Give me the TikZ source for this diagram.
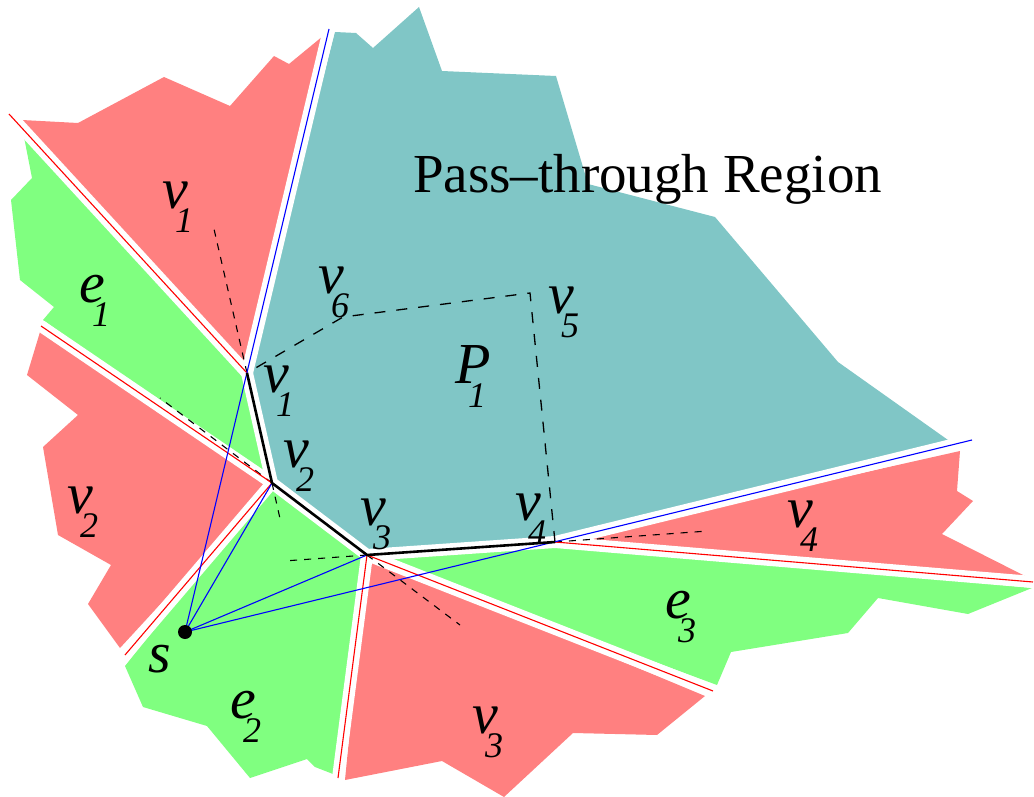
\documentclass[tikz,border=0pt]{standalone}
\usepackage{fontspec}
\setmainfont{Liberation Serif}
\definecolor{pinkr}{RGB}{255,128,128}
\definecolor{greenr}{RGB}{128,255,128}
\definecolor{tealr}{RGB}{128,198,198}
\newcommand{\lbl}[2]{\fontsize{58}{62}\selectfont\itshape\rlap{#1}\hspace{13pt}\raisebox{-24pt}{\fontsize{36}{38}\selectfont #2}}
\tikzset{
  band/.style={white,line width=12pt},
  redline/.style={red,line width=1.1pt},
  blueline/.style={blue,line width=1.1pt},
  extdash/.style={black,line width=1.1pt,dash pattern=on 7pt off 7pt},
  polydash/.style={black,line width=1.3pt,dash pattern=on 11pt off 11pt},
  chain/.style={black,line width=2.6pt,line join=round},
  lab/.style={anchor=base west,inner sep=0pt,outer sep=0pt}
}
\begin{document}
\begin{tikzpicture}[x=1pt,y=-1pt]
\useasboundingbox (0,0) rectangle (1034,797);
% vertices
\coordinate (s) at (185,632);
\coordinate (v1) at (247,373);
\coordinate (v2) at (272,483);
\coordinate (v3) at (367,555);
\coordinate (v4) at (555,542);
\coordinate (v5) at (530,293);
\coordinate (v6) at (343,317);
% ray ends
\coordinate (L1e) at (329,29);
\coordinate (L2e) at (972,440);
\coordinate (R1e) at (9,114);
\coordinate (R2e) at (41,326);
\coordinate (R3e) at (125,655);
\coordinate (R4e) at (338,778);
\coordinate (R5e) at (713,691);
\coordinate (R6e) at (1033,582);
% dashed extension ends
\coordinate (d1) at (214,229);
\coordinate (d2a) at (160,398);
\coordinate (d2b) at (281,523);
\coordinate (d3a) at (284,561);
\coordinate (d3b) at (460,625);
\coordinate (d4) at (708,531);
% regions
\fill[tealr] (v1) -- (v2) -- (v3) -- (v4) -- (948,440) -- (838,362) -- (715,217) -- (588,184) -- (556,76) -- (442,71) -- (419,7) -- (373,48) -- (356,33) -- (335,32) -- cycle;
\fill[pinkr] (v1) -- (22,120) -- (78,123) -- (164,77) -- (230,106) -- (274,56) -- (289,64) -- (323,36) -- cycle;
\fill[greenr] (v1) -- (24,137) -- (32,178) -- (11,200) -- (20,280) -- (54,307) -- (43,320) -- (v2) -- cycle;
\fill[pinkr] (v2) -- (40,332) -- (27,375) -- (78,415) -- (43,447) -- (58,535) -- (111,565) -- (88,604) -- (120,648) -- cycle;
\fill[greenr] (v2) -- (125,666) -- (143,707) -- (207,726) -- (250,778) -- (307,759) -- (315,767) -- (333,774) -- (v3) -- cycle;
\fill[pinkr] (v3) -- (345,780) -- (442,761) -- (504,797) -- (573,733) -- (657,735) -- (705,696) -- cycle;
\fill[greenr] (v3) -- (717,685) -- (731,652) -- (848,633) -- (878,598) -- (968,614) -- (1032,588) -- (v4) -- cycle;
\fill[pinkr] (v4) -- (1025,576) -- (942,534) -- (973,501) -- (957,491) -- (960,451) -- cycle;
% white gaps between regions
\draw[band] (v1) -- (L1e);
\draw[band] (v1) -- (R1e);
\draw[band] (v2) -- (R2e);
\draw[band] (v2) -- (R3e);
\draw[band] (v3) -- (R4e);
\draw[band] (v3) -- (R5e);
\draw[band] (v4) -- (R6e);
\draw[band] (v4) -- (L2e);
\draw[band,line join=round] (v1) -- (v2) -- (v3) -- (v4);
% dashed lines
\draw[polydash] (v4) -- (v5) -- (v6) -- (v1);
\draw[extdash] (v1) -- (d1);
\draw[extdash] (v2) -- (d2a);
\draw[extdash] (v2) -- (d2b);
\draw[extdash] (v3) -- (d3a);
\draw[extdash] (v3) -- (d3b);
\draw[extdash] (v4) -- (d4);
% boundary lines
\draw[redline] (v1) -- (R1e);
\draw[redline] (v2) -- (R2e);
\draw[redline] (v2) -- (R3e);
\draw[redline] (v3) -- (R4e);
\draw[redline] (v3) -- (R5e);
\draw[redline] (v4) -- (R6e);
\draw[blueline] (s) -- (L1e);
\draw[blueline] (s) -- (v2);
\draw[blueline] (s) -- (v3);
\draw[blueline] (s) -- (L2e);
\draw[chain] (v1) -- (v2) -- (v3) -- (v4);
\fill[black] (s) circle (7pt);
% labels
\node[lab] (lv1a) at (162,208) {\lbl{v}{1}};
\node[lab] (le1) at (79,302) {\lbl{e}{1}};
\node[lab] (lv6) at (318,293) {\lbl{v}{6}};
\node[lab] (lv5) at (548,313) {\lbl{v}{5}};
\node[lab] (lp1) at (455,383) {\lbl{P}{1}};
\node[lab] (lv1b) at (263,392) {\lbl{v}{1}};
\node[lab] (lv2b) at (283,467) {\lbl{v}{2}};
\node[lab] (lv2a) at (67,513) {\lbl{v}{2}};
\node[lab] (lv3b) at (360,525) {\lbl{v}{3}};
\node[lab] (lv4b) at (515,520) {\lbl{v}{4}};
\node[lab] (lv4a) at (787,527) {\lbl{v}{4}};
\node[lab] (le3) at (665,618) {\lbl{e}{3}};
\node[lab] (lv3a) at (472,733) {\lbl{v}{3}};
\node[lab] (le2) at (230,718) {\lbl{e}{2}};
\node[lab] (ls) at (148,672) {\fontsize{58}{62}\selectfont\itshape s};
\node[lab] (title) at (413,193) {\fontsize{55}{60}\selectfont Pass–through Region};
\end{tikzpicture}
\end{document}
